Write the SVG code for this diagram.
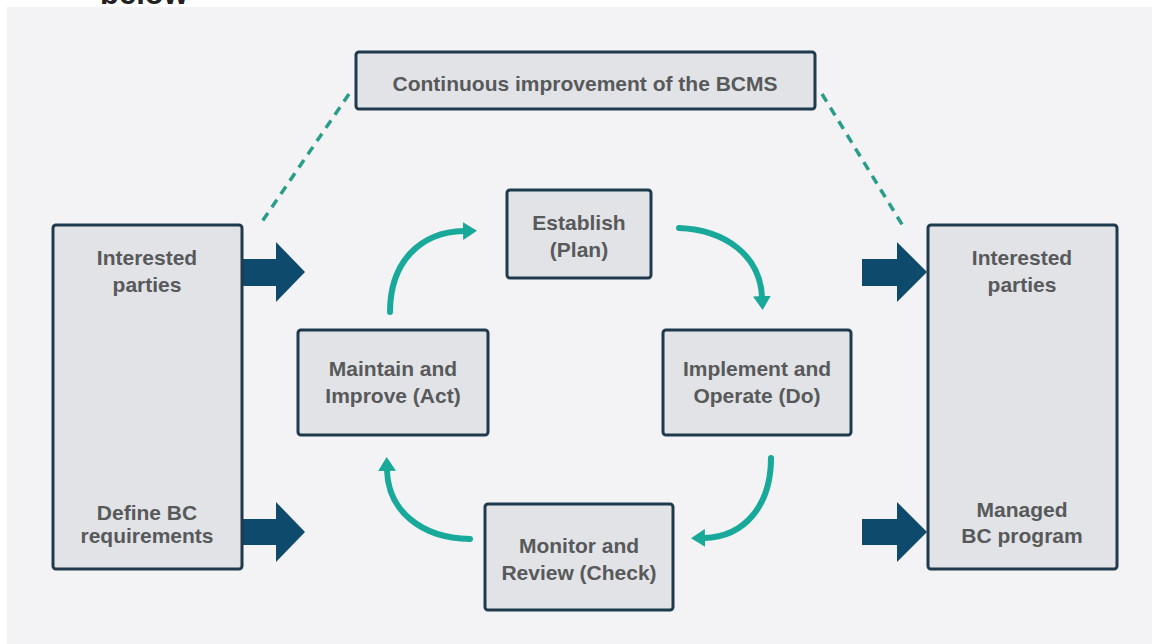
<svg xmlns="http://www.w3.org/2000/svg" width="1152" height="644" viewBox="0 0 1152 644">
  <style>
    .box { fill: #e1e3e6; stroke: #1f3a4d; stroke-width: 3; }
    .lbl { font-family: "Liberation Sans", Arial, sans-serif; font-weight: bold; font-size: 21px; fill: #58595b; text-anchor: middle; }
    .cycle { fill: none; stroke: #19a99a; stroke-width: 6; stroke-linecap: round; marker-end: url(#head); }
    .dash { fill: none; stroke: #2a9d8a; stroke-width: 3.5; stroke-dasharray: 9 7; }
    .block { fill: #0e4a6b; }
  </style>
  <defs>
    <marker id="head" viewBox="0 0 14 18" refX="1" refY="9" markerWidth="14" markerHeight="18" markerUnits="userSpaceOnUse" orient="auto">
      <path d="M0,0 L14,9 L0,18 z" fill="#19a99a"/>
    </marker>
  </defs>

  <!-- page -->
  <rect x="0" y="0" width="1152" height="644" fill="#ffffff"/>
  <text x="100" y="4" font-family="Liberation Sans, Arial, sans-serif" font-weight="bold" font-size="31" fill="#222222">below</text>
  <rect x="7" y="7" width="1145" height="637" fill="#f3f3f6"/>

  <!-- connectors -->
  <g id="connectors">
    <line class="dash" x1="349" y1="94" x2="259" y2="226"/>
    <line class="dash" x1="822" y1="94" x2="903" y2="226"/>

    <polygon class="block" points="242,259 276,259 276,242 305,272 276,302 276,286 242,286"/>
    <polygon class="block" points="242,519 276,519 276,502 305,532 276,562 276,545 242,545"/>
    <polygon class="block" points="862,259 897,259 897,242 927,272 897,302 897,286 862,286"/>
    <polygon class="block" points="862,519 897,519 897,502 927,532 897,562 897,545 862,545"/>

    <path class="cycle" d="M390,312 C390,262 420,232 464,231"/>
    <path class="cycle" d="M679,228 C725,230 760,255 762,297"/>
    <path class="cycle" d="M771,458 C771,505 745,537 704,538"/>
    <path class="cycle" d="M470,539 C420,538 388,510 387,470"/>
  </g>

  <!-- nodes -->
  <g id="bcms">
    <rect class="box" x="356" y="52" width="459" height="57" rx="3"/>
    <text class="lbl" x="585" y="91">Continuous improvement of the BCMS</text>
  </g>

  <g id="left-inputs">
    <rect class="box" x="53" y="225" width="189" height="344" rx="3"/>
    <text class="lbl" x="147" y="265">Interested</text>
    <text class="lbl" x="147" y="292">parties</text>
    <text class="lbl" x="147" y="520">Define BC</text>
    <text class="lbl" x="147" y="543">requirements</text>
  </g>

  <g id="right-outputs">
    <rect class="box" x="928" y="225" width="189" height="344" rx="3"/>
    <text class="lbl" x="1022" y="265">Interested</text>
    <text class="lbl" x="1022" y="292">parties</text>
    <text class="lbl" x="1022" y="517">Managed</text>
    <text class="lbl" x="1022" y="543">BC program</text>
  </g>

  <g id="plan">
    <rect class="box" x="507" y="190" width="144" height="88" rx="3"/>
    <text class="lbl" x="579" y="230">Establish</text>
    <text class="lbl" x="579" y="257">(Plan)</text>
  </g>

  <g id="do">
    <rect class="box" x="663" y="330" width="188" height="105" rx="3"/>
    <text class="lbl" x="757" y="376">Implement and</text>
    <text class="lbl" x="757" y="403">Operate (Do)</text>
  </g>

  <g id="check">
    <rect class="box" x="485" y="504" width="188" height="106" rx="3"/>
    <text class="lbl" x="579" y="553">Monitor and</text>
    <text class="lbl" x="579" y="580">Review (Check)</text>
  </g>

  <g id="act">
    <rect class="box" x="298" y="330" width="190" height="105" rx="3"/>
    <text class="lbl" x="393" y="376">Maintain and</text>
    <text class="lbl" x="393" y="403">Improve (Act)</text>
  </g>
</svg>
